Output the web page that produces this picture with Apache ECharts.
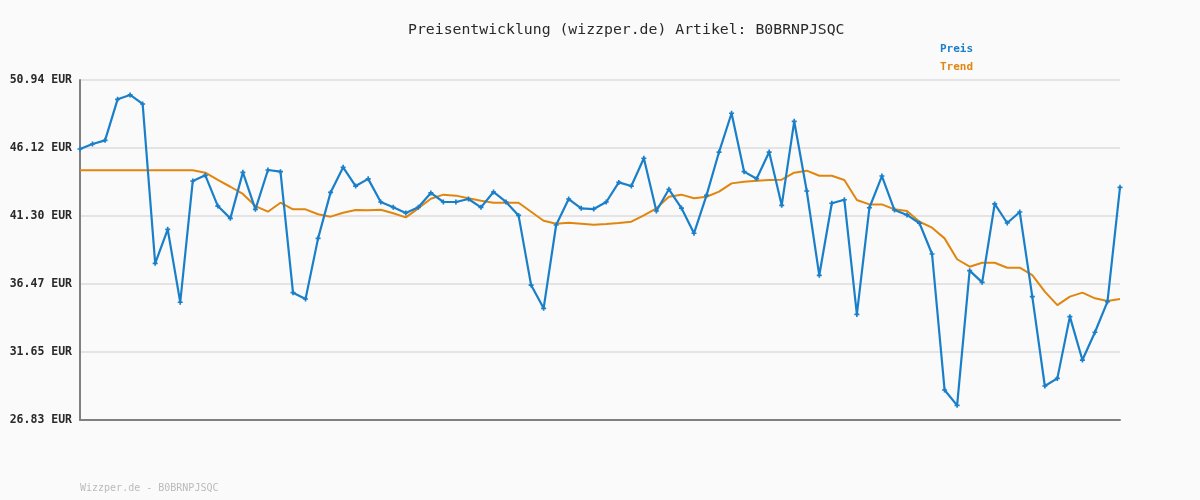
<!DOCTYPE html>
<html>
<head>
<meta charset="utf-8">
<script src="https://cdn.jsdelivr.net/npm/echarts@6/dist/echarts.min.js"></script>
<style>
    html, body { margin: 0; padding: 0; background: #fafafa; }
    #chart { width: 1200px; height: 500px; }
</style>
</head>
<body>
<div id="chart"></div>
<script>
var priceValues = [
    46.05, 46.40, 46.66, 49.57, 49.88, 49.24, 37.94, 40.35, 35.18, 43.78,
    44.18, 42.00, 41.13, 44.39, 41.77, 44.56, 44.44, 35.86, 35.41, 39.71,
    42.97, 44.75, 43.42, 43.93, 42.29, 41.91, 41.51, 41.91, 42.93, 42.29,
    42.29, 42.50, 41.91, 43.00, 42.29, 41.34, 36.40, 34.75, 40.66, 42.50,
    41.84, 41.79, 42.29, 43.68, 43.42, 45.39, 41.65, 43.19, 41.86, 40.07,
    42.76, 45.83, 48.58, 44.44, 43.94, 45.83, 42.05, 48.01, 43.07, 37.09,
    42.20, 42.45, 34.32, 41.88, 44.13, 41.72, 41.37, 40.78, 38.60, 28.96,
    27.87, 37.42, 36.59, 42.15, 40.80, 41.58, 35.58, 29.24, 29.78, 34.16,
    31.08, 33.05, 35.22, 43.33
];

var trendValues = [
    44.54, 44.54, 44.54, 44.54, 44.54, 44.54, 44.54, 44.54, 44.54, 44.54,
    44.37, 43.85, 43.37, 42.86, 42.00, 41.60, 42.24, 41.77, 41.77, 41.42,
    41.25, 41.53, 41.72, 41.70, 41.74, 41.49, 41.20, 41.84, 42.52, 42.81,
    42.74, 42.55, 42.38, 42.24, 42.24, 42.24, 41.60, 40.96, 40.75, 40.82,
    40.75, 40.68, 40.73, 40.80, 40.89, 41.34, 41.84, 42.66, 42.81, 42.55,
    42.66, 43.02, 43.61, 43.73, 43.80, 43.85, 43.87, 44.37, 44.51, 44.15,
    44.15, 43.85, 42.43, 42.12, 42.12, 41.77, 41.65, 40.89, 40.47, 39.71,
    38.23, 37.70, 37.98, 37.98, 37.63, 37.63, 37.11, 35.93, 34.98, 35.58,
    35.86, 35.46, 35.27, 35.41
];

var xCategories = priceValues.map(function (v, i) { return String(i + 1); });

var yMin = 26.83;
var yMax = 50.94;
var yStep = 4.822;

var mono = 'DejaVu Sans Mono';
var blue = '#1a7fc9';
var orange = '#e0860f';

var myChart = echarts.init(document.getElementById('chart'));

var option = {
    backgroundColor: '#fafafa',
    animation: false,
    title: {
        text: 'Preisentwicklung (wizzper.de) Artikel: B0BRNPJSQC',
        left: 403,
        top: 18,
        textStyle: {
            fontFamily: mono,
            fontSize: 14.8,
            fontWeight: 'normal',
            color: '#2a2a2a'
        }
    },
    legend: {
        orient: 'vertical',
        left: 930,
        top: 39,
        itemWidth: 0,
        itemHeight: 0,
        itemGap: 7,
        icon: 'none',
        data: [
            { name: 'Preis', textStyle: { color: blue } },
            { name: 'Trend', textStyle: { color: orange } }
        ],
        textStyle: {
            fontFamily: mono,
            fontSize: 11,
            fontWeight: 'bold'
        }
    },
    grid: {
        left: 80,
        right: 80,
        top: 80,
        bottom: 80
    },
    xAxis: {
        type: 'category',
        data: xCategories,
        boundaryGap: false,
        axisLine: { lineStyle: { color: '#808080', width: 2 } },
        axisTick: { show: false },
        axisLabel: { show: false },
        splitLine: { show: false }
    },
    yAxis: {
        type: 'value',
        min: yMin,
        max: yMax,
        interval: yStep,
        axisLine: { show: true, lineStyle: { color: '#808080', width: 2 } },
        axisTick: { show: false },
        axisLabel: {
            margin: 8,
            fontFamily: mono,
            fontSize: 11.5,
            fontWeight: 'bold',
            color: '#2a2a2a',
            formatter: function (v) { return v.toFixed(2) + ' EUR'; }
        },
        splitLine: { lineStyle: { color: '#e4e4e4', width: 2 } }
    },
    graphic: [{
        type: 'text',
        left: 80,
        top: 483,
        style: {
            text: 'Wizzper.de - B0BRNPJSQC',
            font: '10px "DejaVu Sans Mono"',
            fill: '#bbbbbb'
        }
    }],
    series: [{
        name: 'Trend',
        type: 'line',
        data: trendValues,
        showSymbol: false,
        symbol: 'none',
        lineStyle: { color: orange, width: 2 },
        itemStyle: { color: orange },
        z: 2
    }, {
        name: 'Preis',
        type: 'line',
        data: priceValues,
        symbol: 'path://M2,0H4V2H6V4H4V6H2V4H0V2H2Z',
        symbolSize: 5,
        lineStyle: { color: blue, width: 2.2 },
        itemStyle: { color: blue },
        z: 3
    }]
};

myChart.setOption(option);
</script>
</body>
</html>
